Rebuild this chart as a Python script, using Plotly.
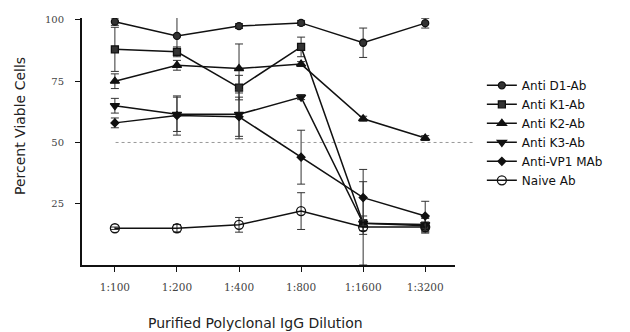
import plotly.graph_objects as go

categories = ["1:100", "1:200", "1:400", "1:800", "1:1600", "1:3200"]

d1 = [99.3, 93.5, 97.5, 98.8, 90.7, 98.7]
d1_err = [1.5, 8, 1, 1, 6, 2]
k1 = [88, 87, 72.4, 89, 17, 16]
k1_err = [9, 2, 5, 4, 17, 3]
k2 = [75, 81.5, 80.2, 82, 59.7, 51.8]
k2_err = [3, 2, 10, 1, 1, 1]
k3 = [65, 61.5, 61.5, 68.5, 17, 16.5]
k3_err = [3, 7, 10, 1, 3, 3]
vp1 = [58, 61, 60.5, 44, 27.5, 20]
vp1_err = [2, 8, 8, 11, 11.5, 6]
naive = [15, 15, 16.4, 22, 15.5, 15.5]
naive_err = [0.5, 1.5, 3, 7.5, 3, 2]

series = [
    ("Anti D1-Ab", d1, d1_err, "circle", 7, "#333"),
    ("Anti K1-Ab", k1, k1_err, "square", 7, "#333"),
    ("Anti K2-Ab", k2, k2_err, "triangle-up", 8, "#111"),
    ("Anti K3-Ab", k3, k3_err, "triangle-down", 8, "#111"),
    ("Anti-VP1 MAb", vp1, vp1_err, "diamond", 6, "#111"),
    ("Naive Ab", naive, naive_err, "circle-open", 9, "#111"),
]

fig = go.Figure()
for name, vals, err, sym, size, col in series:
    fig.add_trace(go.Scatter(
        x=categories, y=vals, name=name, mode="lines+markers",
        line=dict(color="#111", width=1.5),
        marker=dict(symbol=sym, size=size, color=col,
                    line=dict(color="#111", width=1.3)),
        error_y=dict(type="data", array=err, visible=True,
                     color="#333", thickness=1, width=4),
    ))

fig.add_shape(type="line", xref="paper", yref="y",
              x0=0.09, x1=1.05, y0=50, y1=50,
              line=dict(color="#999", width=1, dash="dot"), layer="below")

fig.add_annotation(text="Purified Polyclonal IgG Dilution", xref="paper", yref="paper",
                   x=0.464, y=-0.235, xanchor="center", yanchor="middle", showarrow=False,
                   font=dict(size=14, family="DejaVu Sans", color="#222"))
fig.add_annotation(text="Percent Viable Cells", xref="paper", yref="paper",
                   x=-0.166, y=0.563, xanchor="center", yanchor="middle", showarrow=False,
                   textangle=-90,
                   font=dict(size=14, family="DejaVu Sans", color="#222"))

fig.update_layout(
    width=630, height=332,
    margin=dict(l=82, r=175, t=18, b=67),
    paper_bgcolor="white", plot_bgcolor="white",
    font=dict(family="DejaVu Sans", color="#222"),
    showlegend=True,
    legend=dict(x=1.072, y=0.786, xanchor="left", yanchor="top",
                font=dict(size=12, family="DejaVu Sans", color="#111"),
                bgcolor="rgba(0,0,0,0)", tracegroupgap=0, itemwidth=30),
    xaxis=dict(
        type="category", range=[-0.53, 5.48],
        showline=True, linecolor="#111", linewidth=2,
        ticks="outside", ticklen=5, tickcolor="#111",
        tickfont=dict(size=10.5, family="DejaVu Serif", color="#444"),
        ticklabelstandoff=6,
        showgrid=False, zeroline=False,
    ),
    yaxis=dict(
        range=[0, 100.8], tickvals=[25, 50, 75, 100],
        showline=True, linecolor="#111", linewidth=2,
        ticks="outside", ticklen=5, tickcolor="#111",
        tickfont=dict(size=10, family="DejaVu Serif", color="#444"),
        ticklabelstandoff=9,
        showgrid=False, zeroline=False,
    ),
)

fig.write_html("out.html")
